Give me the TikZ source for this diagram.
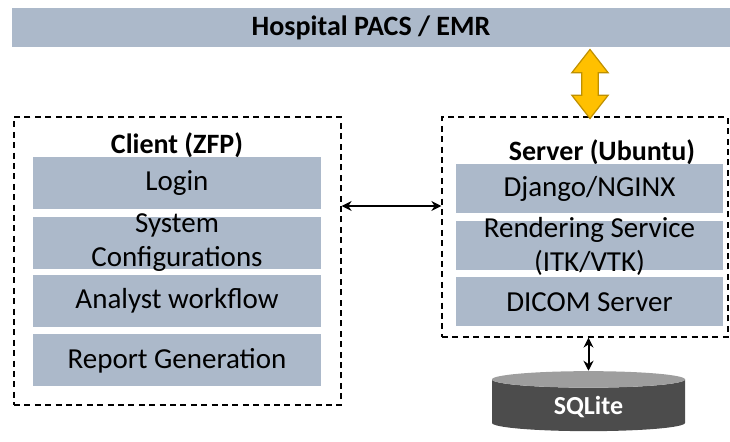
\documentclass[tikz,border=0pt]{standalone}
\usepackage{fontspec}
\setmainfont{Carlito}
\usepackage{tikz}
\usetikzlibrary{positioning,shapes.geometric,shapes.arrows,arrows.meta}
\definecolor{barblue}{HTML}{ACB9CA}
\definecolor{gold}{HTML}{FFC000}
\definecolor{darkgold}{HTML}{BF9000}

\begin{document}
\begin{tikzpicture}[x=0.5pt, y=-0.5pt,
    bar/.style={fill=barblue, inner sep=0pt, minimum height=26pt, minimum width=144pt, font=\fontsize{14.5}{17}\selectfont},
    sbar/.style={bar, minimum height=24.5pt, minimum width=133.5pt},
    group/.style={draw, dash pattern=on 3pt off 2.2pt, line width=0.6pt},
    title/.style={font=\bfseries\fontsize{14}{17}\selectfont},
    link/.style={{Stealth[length=5pt,width=5pt]}-{Stealth[length=5pt,width=5pt]}, line width=1pt}]
    \useasboundingbox (0,0) rectangle (730,442);
    % top system
    \node[fill=barblue, minimum width=359pt, minimum height=19.5pt, inner sep=0pt, title] (pacs) at (371,27.5) {Hospital PACS / EMR};
    % client side
    \node[group, minimum width=163.5pt, minimum height=144pt] (client) at (177.5,261) {};
    \node[title] (clienttitle) at (177,145) {Client (ZFP)};
    \node[bar] (login) at (177,183) {Login};
    \node[bar, label={[align=center, font=\fontsize{14.5}{17}\selectfont]center:System\\Configurations}] (conf) at (177,243) {};
    \node[bar] (analyst) at (177,301) {Analyst workflow};
    \node[bar] (report) at (177,360.5) {Report Generation};
    % server side
    \node[group, minimum width=143pt, minimum height=110pt] (server) at (585,227) {};
    \node[title] (servertitle) at (602,152) {Server (Ubuntu)};
    \node[sbar] (django) at (589.5,188.5) {Django/NGINX};
    \node[sbar, label={[align=center, font=\fontsize{14.5}{17}\selectfont]center:Rendering Service\\(ITK/VTK)}] (render) at (589.5,246) {};
    \node[sbar] (dicom) at (589.5,302) {DICOM Server};
    % database
    \node[cylinder, shape border rotate=90, aspect=0.2, minimum width=96.5pt, minimum height=30pt,
        cylinder uses custom fill, cylinder body fill=black!70, cylinder end fill=black!38,
        text=white, font=\bfseries\fontsize{13}{15}\selectfont] (db) at (588.5,407) {SQLite};
    % connections
    \node[double arrow, rotate=90, fill=gold, draw=darkgold, line width=0.6pt, inner sep=3.8pt,
        double arrow head extend=5pt, double arrow tip angle=76, minimum height=34.5pt] (hl7) at (590,84) {};
    \draw[link] (client.east |- 0,206) -- (server.west |- 0,206);
    \draw[link] (db.north) -- (db.north |- server.south);
\end{tikzpicture}
\end{document}
